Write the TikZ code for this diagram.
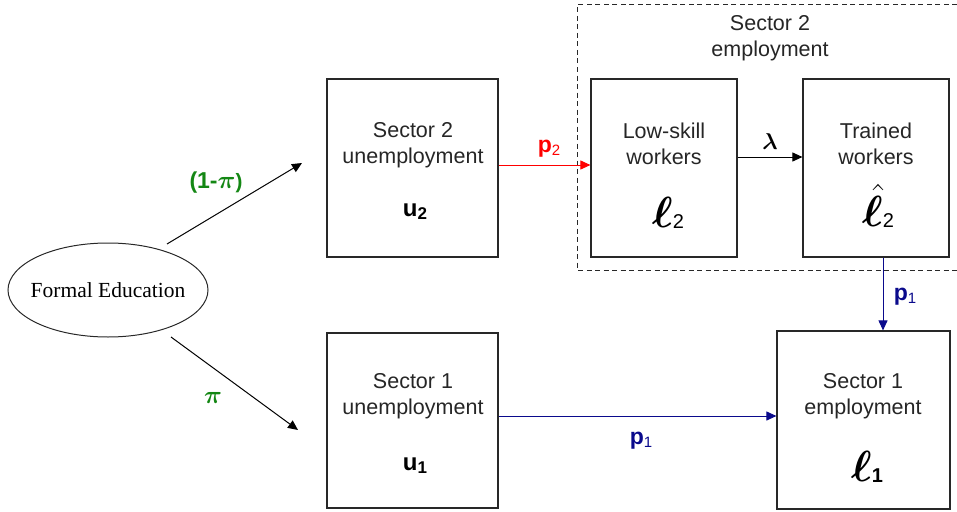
\documentclass[tikz,border=0pt]{standalone}
\usepackage{graphicx}
\usepackage{bm}
\usepackage{fontspec}
\setmainfont{Liberation Sans}
\newfontfamily\febody{Liberation Serif}
\usetikzlibrary{arrows.meta,shapes.geometric,calc}
\definecolor{navyp}{RGB}{10,10,140}
\definecolor{greenp}{RGB}{20,135,20}
\definecolor{boxgray}{RGB}{40,40,40}
\definecolor{redp}{RGB}{255,0,0}
\newcommand\lsub[1]{\raisebox{-1pt}{\fontsize{20}{20}\selectfont #1}}
\newcommand\psub[1]{\raisebox{-3pt}{\fontsize{15}{15}\selectfont\mdseries #1}}
\newcommand\bigell{\fontsize{20.74}{22}\selectfont\scalebox{2.1}{$\bm{\ell}$}}
\newcommand\bighatell{\fontsize{20.74}{22}\selectfont\scalebox{2.1}{$\hat{\bm{\ell}}$}}
\newcommand\bpi{\fontsize{20.74}{22}\selectfont\scalebox{1.2}{$\bm{\pi}$}}
\newcommand\blam{\fontsize{20.74}{22}\selectfont\scalebox{1.1}{$\bm{\lambda}$}}
\begin{document}
\begin{tikzpicture}[x=1pt,y=-1pt,
  box/.style={draw=boxgray,line width=1.2pt,rectangle,inner sep=0pt},
  txt/.style={align=center,font=\fontsize{21.5}{26}\selectfont,text=black!85,inner sep=0pt},
  sym/.style={inner sep=0pt},
  arr/.style={line width=1pt,-{Triangle[length=10pt,width=9pt]}},
  lab/.style={inner sep=0pt,font=\bfseries\fontsize{23}{24}\selectfont}]
\useasboundingbox (0,0) rectangle (957,511);
% dashed group frame
\draw[boxgray,line width=1pt,dash pattern=on 5pt off 3.5pt] (957,5) -- (577,5) -- (577,270) -- (957,270);
\node[txt] (s2emp) at (770,38) {Sector 2\\employment};
% boxes
\node[box,minimum width=171pt,minimum height=178pt] (u2box) at (412.5,168) {};
\node[box,minimum width=171pt,minimum height=175pt] (u1box) at (412.5,420.5) {};
\node[box,minimum width=146pt,minimum height=178pt] (l2box) at (664,168) {};
\node[box,minimum width=146pt,minimum height=178pt] (tbox) at (876,168) {};
\node[box,minimum width=173pt,minimum height=178pt] (e1box) at (863.5,420) {};
% ellipse
\node[draw=boxgray,line width=1pt,ellipse,minimum width=200pt,minimum height=94pt,inner sep=0pt] (fe) at (108,290) {};
\node[inner sep=0pt,font=\febody\fontsize{21.5}{24}\selectfont] (fet) at (fe.center) {Formal Education};
% box texts
\node[txt] (u2t) at (413,145) {Sector 2\\unemployment};
\node[sym] (u2) at (415,212) {\bfseries\fontsize{24}{24}\selectfont u\raisebox{-3pt}{\fontsize{17}{17}\selectfont 2}};
\node[txt] (u1t) at (413,396) {Sector 1\\unemployment};
\node[sym] (u1) at (415,466) {\bfseries\fontsize{24}{24}\selectfont u\raisebox{-3pt}{\fontsize{17}{17}\selectfont 1}};
\node[txt] (l2t) at (664,144) {Low-skill\\workers};
\node[sym] (ell2) at (668,213) {\bigell\lsub{2}};
\node[txt] (tt) at (876,144) {Trained\\workers};
\node[sym] (ellh2) at (878,206) {\bighatell\lsub{2}};
\node[txt] (e1t) at (863,396) {Sector 1\\employment};
\node[sym] (ell1) at (867,467) {\bigell\lsub{\bfseries 1}};
% connectors from education
\coordinate (s2) at (167,244);
\coordinate (e2) at (302,163);
\coordinate (s1) at (171,337);
\coordinate (e1) at (298,430);
\draw[arr,black] (s2) -- (e2);
\draw[arr,black] (s1) -- (e1);
\node[lab,text=greenp] (g1) at (216,183) {(1-\bpi)};
\node[lab,text=greenp] (g2) at (213,398) {\bpi};
% p2
\draw[arr,redp] ([yshift=3pt]u2box.east) -- ([yshift=3pt]l2box.west);
\node[lab,text=redp] (p2) at (549,149) {p\psub{2}};
% lambda
\draw[arr,black] ([yshift=11pt]l2box.east) -- ([yshift=11pt]tbox.west);
\node[sym] (lam) at (770,142) {\blam};
% p1 vertical
\coordinate (v1) at ([xshift=7pt]tbox.south);
\draw[arr,navyp] (v1) -- (v1 |- e1box.north);
\node[lab,text=navyp] (p1v) at (905,297) {p\psub{1}};
% p1 horizontal
\coordinate (h1) at ([yshift=4.5pt]u1box.east);
\draw[arr,navyp] (h1) -- (h1 -| e1box.west);
\node[lab,text=navyp] (p1h) at (641,441) {p\psub{1}};
\end{tikzpicture}
\end{document}
